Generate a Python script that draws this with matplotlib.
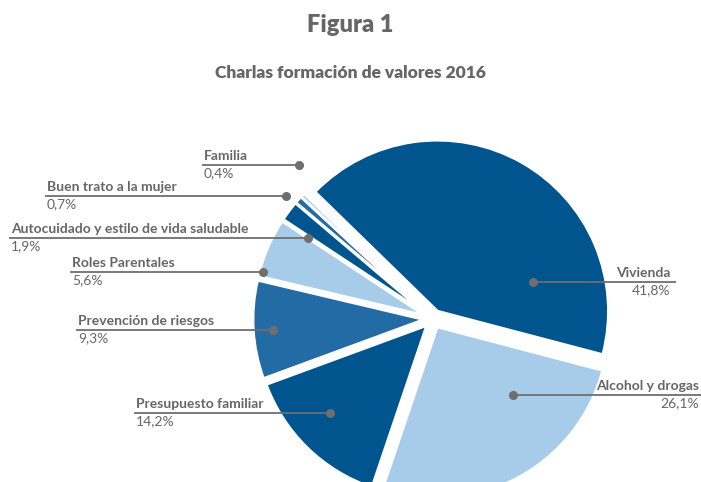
import matplotlib.pyplot as plt

# ----- DATA -----
categories = ['Vivienda', 'Alcohol y drogas', 'Presupuesto familiar', 'Prevención de riesgos',
              'Roles Parentales', 'Autocuidado y estilo de vida saludable', 'Buen trato a la mujer', 'Familia']
values = [41.8, 26.1, 14.2, 9.3, 5.6, 1.9, 0.7, 0.4]
pct_labels = ['41,8%', '26,1%', '14,2%', '9,3%', '5,6%', '1,9%', '0,7%', '0,4%']

dark, mid, light = '#00558f', '#236ba5', '#a6cce9'
colors = [dark, light, dark, mid, light, dark, mid, light]

# label layout in pixels (dot x, line y from top, text edge x, side)
label_pos = [(533, 282, 670, 'right'), (513, 395, 699, 'right'), (330, 413, 136, 'left'),
             (273, 330, 78, 'left'), (263, 272, 72, 'left'), (308, 238, 11, 'left'),
             (286, 196, 47, 'left'), (299, 165, 204, 'left')]

W, H = 701, 482
grey = '#666666'
plt.rcParams['font.family'] = ['Lato', 'DejaVu Sans']

fig = plt.figure(figsize=(W / 100, H / 100), dpi=100)
ax = fig.add_axes([0, 0, 1, 1])
# explode is in data units here (pixels)
ax.pie(values, colors=colors, center=(433, H - 319), radius=171, startangle=135.75,
       counterclock=False, explode=[9] * len(values),
       wedgeprops=dict(edgecolor='white', linewidth=2))
ax.set_xlim(0, W)
ax.set_ylim(0, H)
ax.axis('off')

for name, pct, (dx, ly, tx, side) in zip(categories, pct_labels, label_pos):
    y = H - ly
    line_end = tx - 2 if side == 'left' else tx + 6
    ax.plot([dx, line_end], [y, y], color='#6e6e6e', lw=1.3, solid_capstyle='butt')
    ax.plot(dx, y, 'o', color='#6e6e6e', ms=5.5)
    ax.text(tx, y + 3, name, ha=side, va='bottom', fontsize=10, fontweight='bold', color=grey)
    ax.text(tx, y - 2, pct, ha=side, va='top', fontsize=10, color=grey)

fig.text(0.5, 1 - 25 / H, 'Figura 1', ha='center', va='center', fontsize=17, fontweight='heavy', color=grey)
fig.text(0.5, 1 - 73 / H, 'Charlas formación de valores 2016', ha='center', va='center',
         fontsize=12.5, fontweight='heavy', color=grey)

fig.savefig('out.png', dpi=100)
